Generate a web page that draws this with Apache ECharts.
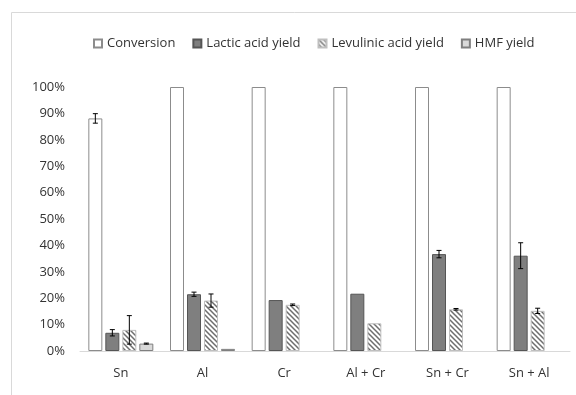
<!DOCTYPE html>
<html><head><meta charset="utf-8">
<script src="https://cdn.jsdelivr.net/npm/echarts@6/dist/echarts.min.js"></script>
<style>html,body{margin:0;padding:0;background:#fff}#c{width:576px;height:395px}</style>
</head><body><div id="c"></div>
<script>
const categories = ['Sn', 'Al', 'Cr', 'Al + Cr', 'Sn + Cr', 'Sn + Al'];
const seriesNames = ['Conversion', 'Lactic acid yield', 'Levulinic acid yield', 'HMF yield'];
const conversion = [88.1, 100, 100, 100, 100, 100];
const conversionErr = [1.8, null, null, null, null, null];
const lactic = [6.9, 21.5, 19.3, 21.7, 36.7, 36.1];
const lacticErr = [1.2, 0.8, null, null, 1.4, 4.9];
const levulinic = [8.0, 19.1, 17.5, 10.5, 15.8, 15.2];
const levulinicErr = [5.4, 2.5, 0.3, null, 0.3, 1.0];
const hmf = [2.8, 0.8, null, null, null, null];
const hmfErr = [0.2, null, null, null, null, null];
const yTicks = [0, 10, 20, 30, 40, 50, 60, 70, 80, 90, 100];

function hatch() {
  const c = document.createElement('canvas');
  c.width = 5; c.height = 5;
  const g = c.getContext('2d');
  g.fillStyle = '#fff'; g.fillRect(0, 0, 5, 5);
  g.strokeStyle = '#6e6e6e'; g.lineWidth = 1.5;
  g.beginPath();
  g.moveTo(-1, -1); g.lineTo(6, 6);
  g.moveTo(-1, 4); g.lineTo(1, 6);
  g.moveTo(4, -1); g.lineTo(6, 1);
  g.stroke();
  return c;
}

const BW = 14, GAP = 3;
const values = [conversion, lactic, levulinic, hmf];
const errs = [conversionErr, lacticErr, levulinicErr, hmfErr];
const styles = [
  {color: '#ffffff', borderColor: '#8c8c8c', borderWidth: 1},
  {color: '#7f7f7f', borderColor: '#555555', borderWidth: 1},
  {color: {image: hatch(), repetition: 'repeat'}, borderColor: '#bfbfbf', borderWidth: 1},
  {color: '#d9d9d9', borderColor: '#7f7f7f', borderWidth: 1}
];

const series = [];
values.forEach((v, i) => {
  series.push({
    name: seriesNames[i], type: 'bar', data: v, barWidth: BW, barGap: (GAP / BW * 100) + '%',
    itemStyle: styles[i], emphasis: {disabled: true}
  });
});
values.forEach((v, i) => {
  const data = [];
  v.forEach((val, k) => { if (errs[i][k] != null) data.push([k, val - errs[i][k], val + errs[i][k]]); });
  series.push({
    type: 'custom', silent: true, z: 10,
    data: data,
    encode: {x: 0, y: [1, 2]},
    renderItem: function (params, api) {
      const off = (i - 1.5) * (BW + GAP);
      const lo = api.coord([api.value(0), api.value(1)]);
      const hi = api.coord([api.value(0), api.value(2)]);
      const x = lo[0] + off, cw = 2.5;
      const st = {stroke: '#000', lineWidth: 1};
      return {type: 'group', children: [
        {type: 'line', shape: {x1: x, y1: lo[1], x2: x, y2: hi[1]}, style: st},
        {type: 'line', shape: {x1: x - cw, y1: lo[1], x2: x + cw, y2: lo[1]}, style: st},
        {type: 'line', shape: {x1: x - cw, y1: hi[1], x2: x + cw, y2: hi[1]}, style: st}
      ]};
    }
  });
});

const chart = echarts.init(document.getElementById('c'), null, {renderer: 'canvas'});
chart.setOption({
  animation: false,
  textStyle: {fontFamily: 'Open Sans', color: '#404040'},
  graphic: [{type: 'rect', shape: {x: 11.5, y: 12.5, width: 700, height: 500},
    style: {fill: 'none', stroke: '#d9d9d9', lineWidth: 1}, silent: true}],
  legend: {
    data: seriesNames, top: 32, left: 88, itemWidth: 8, itemHeight: 8, itemGap: 17,
    textStyle: {fontSize: 13, color: '#333333', fontFamily: 'Open Sans'},
    icon: 'rect'
  },
  grid: {left: 80, right: 6, top: 87, bottom: 44},
  xAxis: {
    type: 'category', data: categories,
    axisLine: {lineStyle: {color: '#d9d9d9'}}, axisTick: {show: false},
    axisLabel: {color: '#333333', fontSize: 13, margin: 16}
  },
  yAxis: {
    type: 'value', min: 0, max: 100, interval: 10,
    axisLine: {show: false}, axisTick: {show: false}, splitLine: {show: false},
    axisLabel: {color: '#333333', fontSize: 13, margin: 15,
      formatter: v => yTicks.includes(v) ? v + '%' : ''}
  },
  series: series
});
</script></body></html>
